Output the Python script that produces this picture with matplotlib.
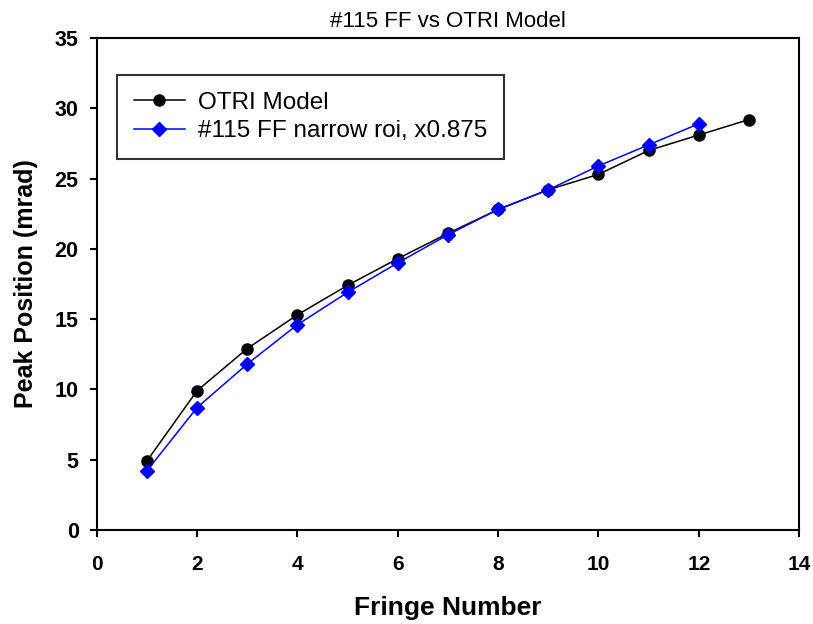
import matplotlib
matplotlib.use("Agg")
import matplotlib.pyplot as plt

plt.rcParams['font.family'] = ['Liberation Sans', 'DejaVu Sans']

# fringe numbers and peak positions (mrad)
fringe_model = [1, 2, 3, 4, 5, 6, 7, 8, 9, 10, 11, 12, 13]
peak_model = [4.9, 9.9, 12.9, 15.3, 17.4, 19.3, 21.1, 22.8, 24.2, 25.3, 27.0, 28.1, 29.2]

fringe_ff = [1, 2, 3, 4, 5, 6, 7, 8, 9, 10, 11, 12]
peak_ff = [4.2, 8.7, 11.8, 14.6, 16.9, 19.0, 21.0, 22.8, 24.2, 25.9, 27.4, 28.9]

xticks = [0, 2, 4, 6, 8, 10, 12, 14]
yticks = [0, 5, 10, 15, 20, 25, 30, 35]

fig = plt.figure(figsize=(8.13, 6.24), dpi=100)
ax = fig.add_axes([0.119, 0.151, 0.864, 0.788])

ax.plot(fringe_model, peak_model, color='black', marker='o', markersize=8,
        linewidth=1.1, label='OTRI Model')
ax.plot(fringe_ff, peak_ff, color='blue', marker='D', markersize=7.5,
        linewidth=1.1, label='#115 FF narrow roi, x0.875')

ax.set_xlim(0, 14)
ax.set_ylim(0, 35)
ax.set_xticks(xticks)
ax.set_yticks(yticks)
ax.tick_params(direction='out', length=5, width=1.5)
ax.tick_params(axis='x', labelsize=15, pad=13)
ax.tick_params(axis='y', labelsize=15.5, pad=8)
for lbl in ax.get_xticklabels() + ax.get_yticklabels():
    lbl.set_fontweight('bold')
for sp in ax.spines.values():
    sp.set_linewidth(1.5)

ax.set_xlabel('Fringe Number', fontsize=19, fontweight='bold', labelpad=16)
ax.set_ylabel('Peak Position (mrad)', fontsize=18, fontweight='bold', labelpad=12)
ax.set_title('#115 FF vs OTRI Model', fontsize=16, pad=8)

leg = ax.legend(loc='upper left', bbox_to_anchor=(0.0285, 0.925), fontsize=17.5,
                frameon=True, fancybox=False, edgecolor='black',
                borderaxespad=0, handlelength=2.1, handletextpad=0.55,
                borderpad=0.7, labelspacing=0.25)
leg.get_frame().set_linewidth(1.5)

fig.savefig('out.png', dpi=100)
